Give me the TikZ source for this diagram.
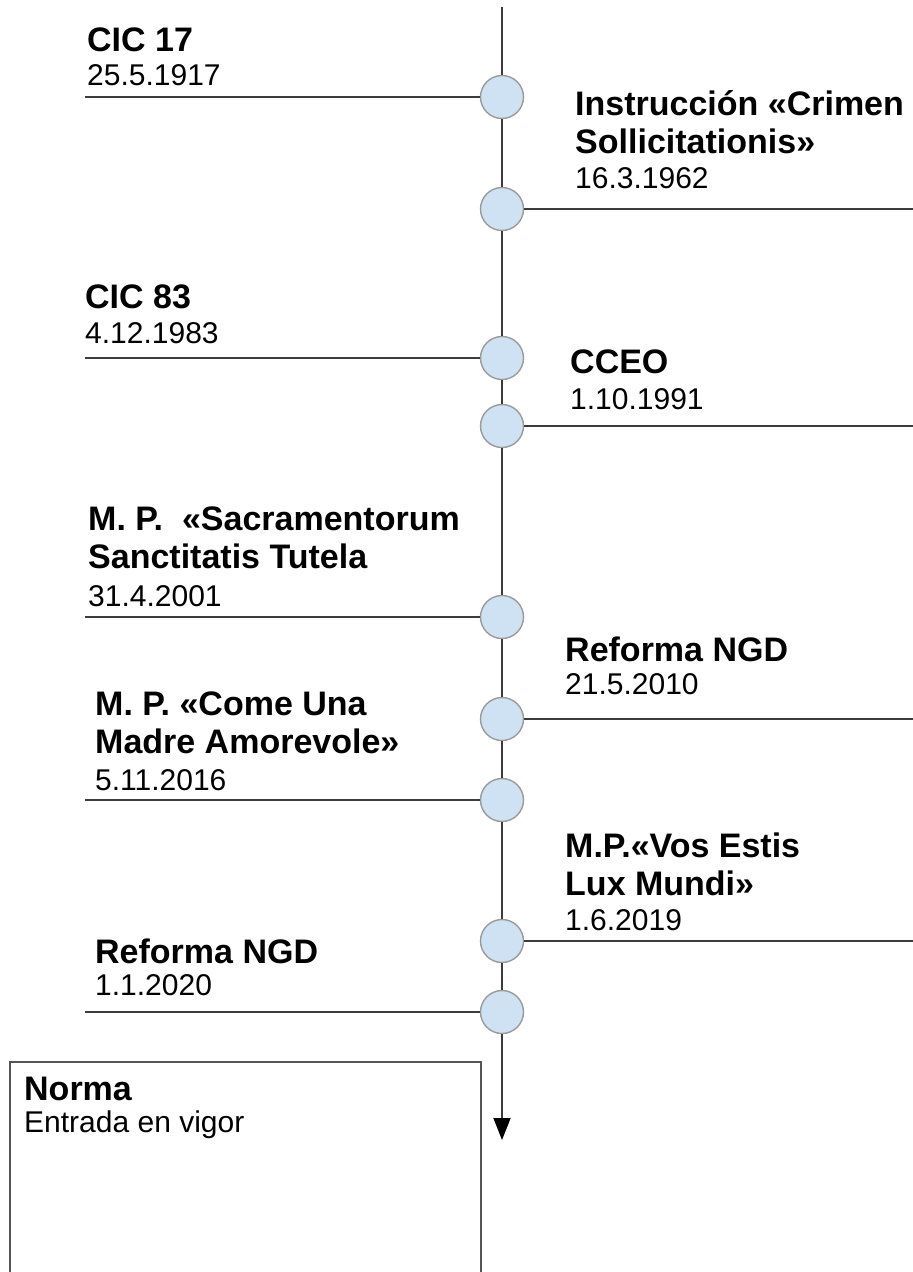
\documentclass[tikz,border=0pt]{standalone}
\usepackage{fontspec}
\setmainfont{Liberation Sans}
\usetikzlibrary{arrows.meta}

\definecolor{dotfill}{HTML}{CFE2F3}
\definecolor{dotline}{HTML}{9A9A9A}
\definecolor{ruleline}{HTML}{3C3C3C}
\definecolor{boxline}{HTML}{555555}
\newcommand{\datefont}{\mdseries\fontsize{30}{36}\selectfont}

\begin{document}
\begin{tikzpicture}[x=1pt,y=-1pt,
        event/.style={circle, draw=dotline, fill=dotfill, line width=1.4pt,
                      minimum size=43pt, inner sep=0pt},
        title/.style={anchor=base west, inner sep=0pt, align=left,
                      font=\fontsize{34}{38}\selectfont\bfseries},
        tie/.style={draw=ruleline, line width=1.7pt}]
            \clip (0,0) rectangle (913,1272);

            % timeline dots
            \node[event] (c1) at (502,97) {};
            \node[event] (c2) at (502,209) {};
            \node[event] (c3) at (502,358) {};
            \node[event] (c4) at (502,426) {};
            \node[event] (c5) at (502,617) {};
            \node[event] (c6) at (502,719) {};
            \node[event] (c7) at (502,800) {};
            \node[event] (c8) at (502,941) {};
            \node[event] (c9) at (502,1012) {};

            \coordinate (top) at (502,7);
            \coordinate (tip) at (502,1140);

            \draw[tie] (top) -- (c1) -- (c2) -- (c3) -- (c4) -- (c5)
                       -- (c6) -- (c7) -- (c8) -- (c9);
            \draw[tie, -{Triangle[length=22pt,width=17pt,color=black]}] (c9) -- (tip);

            % side rules
            \coordinate (l1) at (85,97);
            \coordinate (r2) at (913,209);
            \coordinate (l3) at (85,358);
            \coordinate (r4) at (913,426);
            \coordinate (l5) at (85,617);
            \coordinate (r6) at (913,719);
            \coordinate (l7) at (85,800);
            \coordinate (r8) at (913,941);
            \coordinate (l9) at (85,1012);

            \draw[tie] (l1) -- (c1);
            \draw[tie] (c2) -- (r2);
            \draw[tie] (l3) -- (c3);
            \draw[tie] (c4) -- (r4);
            \draw[tie] (l5) -- (c5);
            \draw[tie] (c6) -- (r6);
            \draw[tie] (l7) -- (c7);
            \draw[tie] (c8) -- (r8);
            \draw[tie] (l9) -- (c9);

            % labels (anchored at the date line)
            \node[title] (cic17) at (87,85) {CIC 17\\[-4pt]\datefont 25.5.1917};
            \node[title] (crimen) at (575,188) {Instrucción «Crimen\\Sollicitationis»\\[-3pt]\datefont 16.3.1962};
            \node[title] (cic83) at (85,343) {CIC 83\\[-3pt]\datefont 4.12.1983};
            \node[title] (cceo) at (570,409) {CCEO\\[-2pt]\datefont 1.10.1991};
            \node[title] (sst) at (88,606) {M. P.\ \ «Sacramentorum\\Sanctitatis Tutela\\[0pt]\datefont 31.4.2001};
            \node[title] (ngd10) at (565,694) {Reforma NGD\\[-5pt]\datefont 21.5.2010};
            \node[title] (cuma) at (95,790) {M. P. «Come Una\\Madre Amorevole»\\[-1pt]\datefont 5.11.2016};
            \node[title] (vels) at (565,930) {M.P.«Vos Estis\\Lux Mundi»\\[-3pt]\datefont 1.6.2019};
            \node[title] (ngd20) at (95,995) {Reforma NGD\\[-6pt]\datefont 1.1.2020};

            % legend box
            \node[draw=boxline, line width=1.7pt, anchor=north west, inner sep=0pt,
                  minimum width=471pt, minimum height=260pt] (legend) at (9,1061) {};
            \node[title] (norma) at (24,1132) {Norma\\[-6pt]\datefont Entrada en vigor};
        \end{tikzpicture}
\end{document}
